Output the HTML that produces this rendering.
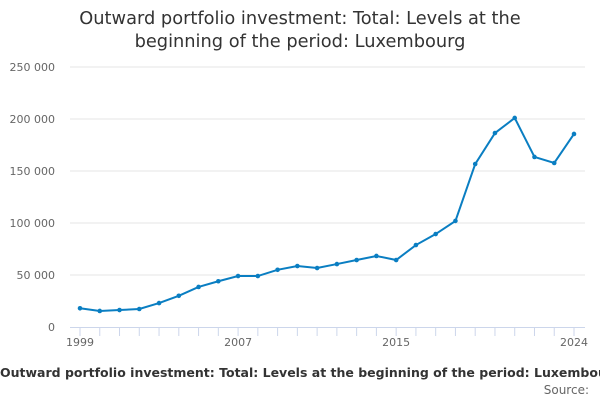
<!DOCTYPE html>
<html><head><meta charset="utf-8"><style>
body{margin:0;width:600px;height:400px;overflow:hidden;background:#fff;font-family:"DejaVu Sans","Liberation Sans",sans-serif}
</style></head><body>
<svg width="600" height="400" id="c">
<text x="300" y="24" text-anchor="middle" font-size="17.8" fill="#333">Outward portfolio investment: Total: Levels at the</text>
<text x="300" y="47" text-anchor="middle" font-size="17.8" fill="#333">beginning of the period: Luxembourg</text>
<g id="grid"></g><g id="axes"></g><g id="series"></g>
<text x="0" y="377" text-anchor="start" font-size="12.5" font-weight="bold" fill="#333">Outward portfolio investment: Total: Levels at the beginning of the period: Luxembourg</text>
<text x="589" y="394" text-anchor="end" font-size="12" fill="#666">Source:</text>
</svg>
<script>
const years=[1999,2000,2001,2002,2003,2004,2005,2006,2007,2008,2009,2010,2011,2012,2013,2014,2015,2016,2017,2018,2019,2020,2021,2022,2023,2024];
const values=[18000,15400,16300,17300,23000,30000,38500,44000,49000,49000,55000,58600,56700,60500,64400,68300,64400,78800,89400,102000,156700,186500,201000,163500,157700,185600];
const yTicks=[0,50000,100000,150000,200000,250000];
const yTickLabels=["0","50 000","100 000","150 000","200 000","250 000"];
const xLabels=[1999,2007,2015,2024];
const NS="http://www.w3.org/2000/svg";
const xs=y=>80+(y-1999)*(574-80)/25;
const ys=v=>327-v*260/250000;
function mk(t,a,p){const e=document.createElementNS(NS,t);for(const k in a)e.setAttribute(k,a[k]);p.appendChild(e);return e;}
const g=document.getElementById('grid'),ax=document.getElementById('axes'),s=document.getElementById('series');
yTicks.forEach((v,i)=>{
 if(v>0){const l=mk('line',{x1:70,x2:585,y1:ys(v),y2:ys(v),stroke:'#e6e6e6','stroke-width':1},g);
 
 }
 const t=mk('text',{x:55,y:ys(v)+4,'text-anchor':'end','font-size':11,fill:'#666'},ax);t.textContent=yTickLabels[i];
 
 
});
const base=mk('line',{x1:70,x2:585,y1:327.5,y2:327.5,stroke:'#ccd6eb'},ax);


years.forEach(y=>{const t=mk('line',{x1:xs(y),x2:xs(y),y1:327,y2:336,stroke:'#ccd6eb'},ax);
 
 });
xLabels.forEach(y=>{const t=mk('text',{x:xs(y),y:346,'text-anchor':'middle','font-size':11,fill:'#666'},ax);t.textContent=y;
 
 });
const p=mk('path',{d:years.map((y,i)=>(i?'L':'M')+xs(y)+','+ys(values[i])).join(''),fill:'none',stroke:'#0a7ec2','stroke-width':2},s);


years.forEach((y,i)=>{const c=mk('circle',{cx:xs(y),cy:ys(values[i]),r:2.3,fill:'#0a7ec2'},s);
 
 });
</script>
</body></html>
